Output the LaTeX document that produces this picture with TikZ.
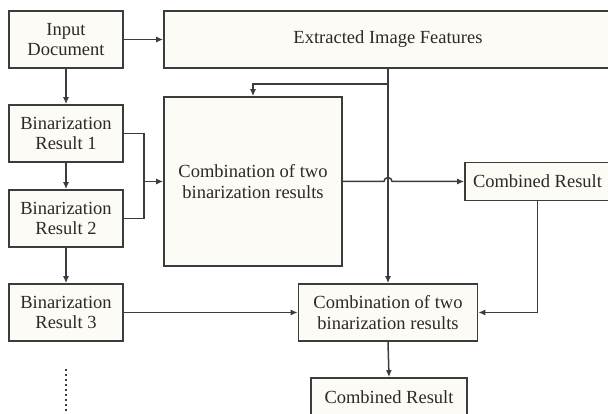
\documentclass[tikz,border=0pt]{standalone}
\usepackage{fontspec}
\setmainfont{Liberation Serif}
\usetikzlibrary{arrows.meta}
\definecolor{linec}{HTML}{3C3C3C}
\definecolor{textc}{HTML}{2A2A2A}
\definecolor{boxfill}{HTML}{FDFBF6}
\tikzset{
	box/.style={draw=linec, fill=boxfill, line width=1.6pt, inner sep=0pt, align=center, text=textc, font=\fontsize{18.5}{20.5}\selectfont},
	conn/.style={draw=linec, line width=1.5pt},
	arr/.style={conn, -{Latex[length=7pt,width=6pt]}}
}
\begin{document}
\begin{tikzpicture}[x=1pt,y=-1pt]
	\useasboundingbox (0,0) rectangle (608,414);
	\clip (0,0) rectangle (608,414);
	\fill[white] (0,0) rectangle (608,414);
	
	\node[box, minimum width=114, minimum height=57] (input) at (66,39.5) {Input\\Document};
	\node[box, minimum width=448, minimum height=57] (feat) at (388,39.5) {Extracted Image Features};
	\node[box, minimum width=114, minimum height=57] (bin1) at (66,133.5) {Binarization\\Result 1};
	\node[box, minimum width=114, minimum height=57] (bin2) at (66,218.5) {Binarization\\Result 2};
	\node[box, minimum width=114, minimum height=57] (bin3) at (66,312.5) {Binarization\\Result 3};
	\node[box, minimum width=178, minimum height=169] (comb1) at (253,181.5) {Combination of two\\binarization results};
	\node[box, minimum width=145, minimum height=38] (res1) at (537.5,181.5) {Combined Result};
	\node[box, minimum width=179, minimum height=57] (comb2) at (388,312.5) {Combination of two\\binarization results};
	\node[box, minimum width=156, minimum height=38] (res2) at (389,397) {Combined Result};
	
	\coordinate (split) at ([yshift=-15]feat.south);
	\coordinate (merge) at ([xshift=20]bin1.east |- comb1.west);
	\coordinate (hop) at (feat.south |- comb1.east);
	
	\draw[arr] (input) -- (feat);
	\draw[arr] (input) -- (bin1);
	\draw[arr] (bin1) -- (bin2);
	\draw[arr] (bin2) -- (bin3);
	
	\draw[conn] (bin1.east) -| (merge) |- (bin2.east);
	\draw[arr] (merge) -- (comb1.west);
	
	\draw[arr] (feat.south) -- (comb2.north);
	\draw[arr] (split) -| (comb1.north);
	
	\draw[arr] (comb1.east) -- ([xshift=-4]hop) arc (180:360:4) -- (res1.west);
	\draw[arr] (res1.south) |- (comb2.east);
	\draw[arr] (bin3.east) -- (comb2.west);
	\draw[arr] (comb2.south) -- (res2.north);
	
	\draw[conn, line width=2.4pt, dash pattern=on 2pt off 3pt] ([yshift=-27]bin3.south) -- ++(0,46);
\end{tikzpicture}
\end{document}
